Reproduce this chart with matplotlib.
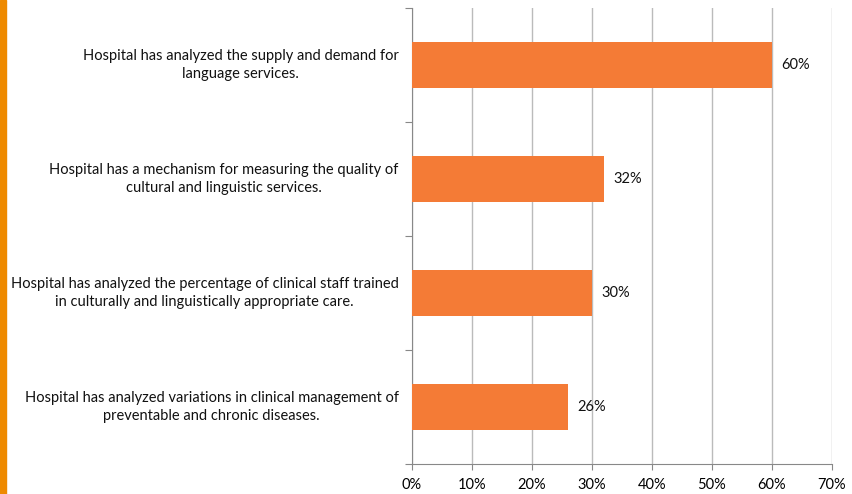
import matplotlib.pyplot as plt
from matplotlib.patches import Rectangle

labels = [
    'Hospital has analyzed the supply and demand for\nlanguage services.',
    'Hospital has a mechanism for measuring the quality of\ncultural and linguistic services.',
    'Hospital has analyzed the percentage of clinical staff trained\nin culturally and linguistically appropriate care.',
    'Hospital has analyzed variations in clinical management of\npreventable and chronic diseases.',
]
values = [60, 32, 30, 26]
xticks = [0, 10, 20, 30, 40, 50, 60, 70]

plt.rcParams['font.family'] = ['Lato', 'DejaVu Sans']

fig = plt.figure(figsize=(8.52, 4.94), dpi=100)
ax = fig.add_axes([412 / 852, 30 / 494, 420 / 852, 456 / 494])

# orange strip on the left edge
fig.patches.append(Rectangle((0, 0), 6 / 852, 1, transform=fig.transFigure,
                             color='#EE8A00', zorder=0))

pos = list(range(len(values)))
ax.barh(pos, values, height=0.4, color='#F47B36', zorder=3)
ax.set_ylim(len(values) - 0.5, -0.5)
ax.set_xlim(0, 70)

for p, v in zip(pos, values):
    ax.text(v + 1.5, p, f'{v}%', va='center', ha='left', fontsize=10.5, color='#111111')

for p, lab in zip(pos, labels):
    ax.text(-0.032, p, lab, transform=ax.get_yaxis_transform(), ha='right',
            va='center', multialignment='center', fontsize=10.5, color='#111111',
            linespacing=1.4)

ax.set_xticks(xticks)
ax.set_xticklabels([f'{t}%' for t in xticks], fontsize=10.5)
ax.set_yticks([-0.5, 0.5, 1.5, 2.5, 3.5])
ax.set_yticklabels([])
ax.tick_params(axis='y', length=5, color='#888888', direction='out')
ax.tick_params(axis='x', length=4, color='#888888', direction='out', pad=6)
ax.grid(axis='x', color='#BBBBBB', linewidth=1, zorder=0)
for s in ['top', 'right']:
    ax.spines[s].set_visible(False)
ax.spines['left'].set_color('#888888')
ax.spines['bottom'].set_color('#888888')

fig.savefig('out.png', dpi=100)
